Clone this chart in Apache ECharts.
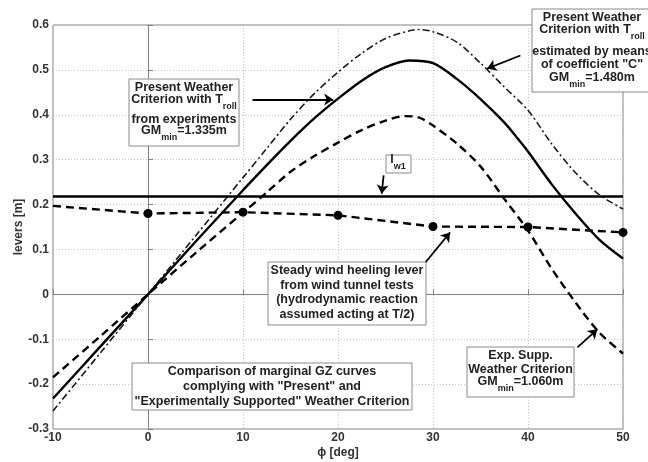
<!DOCTYPE html>
<html>
<head>
<meta charset="utf-8">
<script src="https://cdn.jsdelivr.net/npm/echarts@6/dist/echarts.min.js"></script>
<style>
  html, body { margin: 0; padding: 0; background: #fff; }
  #chart { width: 648px; height: 462px; }
</style>
</head>
<body>
<div id="chart"></div>
<script>
// Heel angle grid for each curve [deg]
const phiPresentExp = [-10, -5, 0, 5, 10, 12.5, 15, 17.5, 20, 22.5, 25, 27.5, 30, 32.5, 35, 37.5, 38.8, 40, 42.5, 45, 47.5, 50];
const gzPresentExp  = [-0.232, -0.116, 0, 0.117, 0.232, 0.288, 0.342, 0.392, 0.436, 0.476, 0.506, 0.521, 0.515, 0.48, 0.435, 0.383, 0.35, 0.318, 0.245, 0.18, 0.122, 0.08];

const phiPresentC = [-10, -5, 0, 5, 10, 12.5, 15, 17.5, 20, 22.5, 25, 27.5, 28.5, 30, 32.5, 35, 37.5, 40, 42.5, 45, 47.5, 50];
const gzPresentC  = [-0.26, -0.13, 0, 0.13, 0.26, 0.325, 0.39, 0.447, 0.495, 0.537, 0.57, 0.587, 0.59, 0.585, 0.562, 0.515, 0.462, 0.41, 0.335, 0.271, 0.222, 0.19];

const phiExpSupp = [-10, -5, 0, 5, 10, 12.5, 15, 17.5, 20, 22.5, 25, 27, 28.5, 30, 32.5, 35, 37.5, 40, 42.5, 45, 47.5, 50];
const gzExpSupp  = [-0.185, -0.093, 0, 0.092, 0.182, 0.227, 0.273, 0.308, 0.338, 0.366, 0.387, 0.397, 0.394, 0.376, 0.336, 0.285, 0.213, 0.142, 0.057, -0.018, -0.085, -0.132];

// Steady wind heeling lever from wind tunnel tests
const phiWind = [-10, 0, 10, 20, 30, 40, 50];
const windLever = [0.197, 0.18, 0.183, 0.176, 0.151, 0.15, 0.138];

// Constant heeling lever l_w1
const lw1 = 0.218;

const xTicks = [-10, 0, 10, 20, 30, 40, 50];
const yTicks = [-0.3, -0.2, -0.1, 0, 0.1, 0.2, 0.3, 0.4, 0.5, 0.6];

// Annotation arrows: [tail, head] in [deg, m]
const arrows = [
  [[11.0, 0.434], [19.5, 0.434]],
  [[39.2, 0.532], [35.7, 0.503]],
  [[24.8, 0.265], [24.6, 0.224]],
  [[29.2, 0.071], [31.8, 0.138]],
  [[45.2, -0.118], [47.3, -0.078]]
];

const FONT = '"Liberation Sans", Arial, sans-serif';
const INK = '#222';
const MAIN_SIZE = 12.5;
const SUB_SIZE = 9;

const pairs = (xs, ys) => xs.map((x, i) => [x, ys[i]]);

// text measuring for lines that carry subscripts
const ctx = document.createElement('canvas').getContext('2d');
function measure(t, size) {
  ctx.font = 'bold ' + size + 'px ' + FONT;
  return ctx.measureText(t).width;
}
function txt(x, y, t, size, align) {
  return {
    type: 'text', x: x, y: y, z: 101,
    style: { text: t, font: 'bold ' + size + 'px ' + FONT, fill: INK, align: align || 'center', verticalAlign: 'middle' }
  };
}
// parts: [text, isSub]
function line(cx, y, parts) {
  const sizes = parts.map(p => p[1] ? SUB_SIZE : MAIN_SIZE);
  const widths = parts.map((p, i) => measure(p[0], sizes[i]));
  let x = cx - widths.reduce((a, b) => a + b, 0) / 2;
  return parts.map((p, i) => {
    const el = txt(x, p[1] ? y + 7 : y, p[0], sizes[i], 'left');
    x += widths[i];
    return el;
  });
}
function box(x, y, w, h) {
  return { type: 'rect', z: 100, shape: { x: x, y: y, width: w, height: h },
    style: { fill: '#fff', stroke: '#8a8a8a', lineWidth: 1 } };
}

const graphics = [].concat(
  // Present criterion, T_roll from experiments
  [box(129, 79, 110, 67)],
  line(184, 88, [['Present Weather', false]]),
  line(184, 99.5, [['Criterion with T', false], ['roll', true]]),
  line(184, 119.5, [['from experiments', false]]),
  line(184, 131, [['GM', false], ['min', true], ['=1.335m', false]]),
  // Present criterion, T_roll from coefficient C
  [box(532, 9, 130, 83)],
  line(592, 17.5, [['Present Weather', false]]),
  line(592, 30, [['Criterion with T', false], ['roll', true]]),
  line(592, 51.5, [['estimated by means', false]]),
  line(592, 65, [['of coefficient "C"', false]]),
  line(592, 77.5, [['GM', false], ['min', true], ['=1.480m', false]]),
  // l_w1 tag
  [box(386, 155, 25, 18)],
  line(398, 160, [['l', false], ['w1', true]]),
  // wind tunnel lever
  [box(268, 262, 158, 63)],
  line(347, 271, [['Steady wind heeling lever', false]]),
  line(347, 285.5, [['from wind tunnel tests', false]]),
  line(347, 300, [['(hydrodynamic reaction', false]]),
  line(347, 315, [['assumed acting at T/2)', false]]),
  // caption
  [box(132, 363, 280, 47)],
  line(272, 372, [['Comparison of marginal GZ curves', false]]),
  line(272, 387, [['complying with "Present" and', false]]),
  line(272, 402, [['"Experimentally Supported" Weather Criterion', false]]),
  // experimentally supported criterion
  [box(467, 347, 107, 50)],
  line(520.5, 356, [['Exp. Supp.', false]]),
  line(520.5, 370, [['Weather Criterion', false]]),
  line(520.5, 382, [['GM', false], ['min', true], ['=1.060m', false]])
);

const chart = echarts.init(document.getElementById('chart'), null, { renderer: 'canvas' });

chart.setOption({
  animation: false,
  backgroundColor: '#fff',
  textStyle: { fontFamily: FONT },
  grid: {
    left: 53, right: 25, top: 25, bottom: 33, containLabel: false, outerBoundsMode: 'none',
    show: true, borderColor: '#808080', borderWidth: 1, backgroundColor: 'transparent'
  },
  xAxis: {
    type: 'value', min: xTicks[0], max: xTicks[xTicks.length - 1], interval: 10,
    name: 'ϕ [deg]', nameLocation: 'middle', nameGap: 18, nameMoveOverlap: false,
    nameTextStyle: { fontSize: 12, fontWeight: 'bold', color: '#333', fontFamily: FONT },
    axisLine: { show: true, lineStyle: { color: '#808080', width: 1 } },
    axisTick: { show: true, inside: true, length: 5, lineStyle: { color: '#808080' } },
    axisLabel: { fontSize: 12, fontWeight: 'bold', color: '#333', margin: 3, fontFamily: FONT },
    splitLine: { show: true, lineStyle: { color: '#c4c4c4', type: [1, 2], width: 1 } }
  },
  yAxis: {
    type: 'value', min: yTicks[0], max: yTicks[yTicks.length - 1], interval: 0.1,
    name: 'levers [m]', nameLocation: 'middle', nameGap: 34, nameRotate: 90, nameMoveOverlap: false,
    nameTextStyle: { fontSize: 12, fontWeight: 'bold', color: '#333', fontFamily: FONT, verticalAlign: 'middle' },
    axisLine: { show: true, lineStyle: { color: '#808080', width: 1 } },
    axisTick: { show: true, inside: true, length: 5, lineStyle: { color: '#808080' } },
    axisLabel: {
      fontSize: 12, fontWeight: 'bold', color: '#333', margin: 4, fontFamily: FONT,
      formatter: v => {
        const r = Math.round(v * 10) / 10;
        return r === 0 ? '0' : String(r);
      }
    },
    splitLine: { show: true, lineStyle: { color: '#c4c4c4', type: [1, 2], width: 1 } }
  },
  series: [
    {
      name: 'Present, T_roll from experiments', type: 'line', smooth: 0.3,
      data: pairs(phiPresentExp, gzPresentExp), showSymbol: false, symbol: 'none',
      lineStyle: { color: '#000', width: 2.4, type: 'solid' }, z: 5
    },
    {
      name: 'Present, T_roll from coefficient C', type: 'line', smooth: 0.3,
      data: pairs(phiPresentC, gzPresentC), showSymbol: false, symbol: 'none',
      lineStyle: { color: '#1a1a1a', width: 1.6, type: [7, 3, 2, 3] }, z: 5
    },
    {
      name: 'Experimentally supported', type: 'line', smooth: 0.3,
      data: pairs(phiExpSupp, gzExpSupp), showSymbol: false, symbol: 'none',
      lineStyle: { color: '#000', width: 2.4, type: [8, 5] }, z: 5
    },
    {
      name: 'Wind heeling lever', type: 'line',
      data: phiWind.map((x, i) => ({ value: [x, windLever[i]], symbol: x < 0 ? 'none' : 'circle' })),
      symbol: 'circle', symbolSize: 9, showAllSymbol: true,
      itemStyle: { color: '#000' },
      lineStyle: { color: '#000', width: 2.4, type: [8, 5] }, z: 6
    },
    {
      name: 'l_w1', type: 'line',
      data: [[xTicks[0], lw1], [xTicks[xTicks.length - 1], lw1]], symbol: 'none',
      lineStyle: { color: '#000', width: 2.4 }, z: 5,
      markLine: {
        silent: true, symbol: ['none', 'arrow'], symbolSize: 9,
        label: { show: false },
        lineStyle: { color: '#000', width: 1.8, type: 'solid' },
        data: arrows.map(a => [{ coord: a[0] }, { coord: a[1] }])
      }
    }
  ],
  graphic: graphics
});
</script>
</body>
</html>
